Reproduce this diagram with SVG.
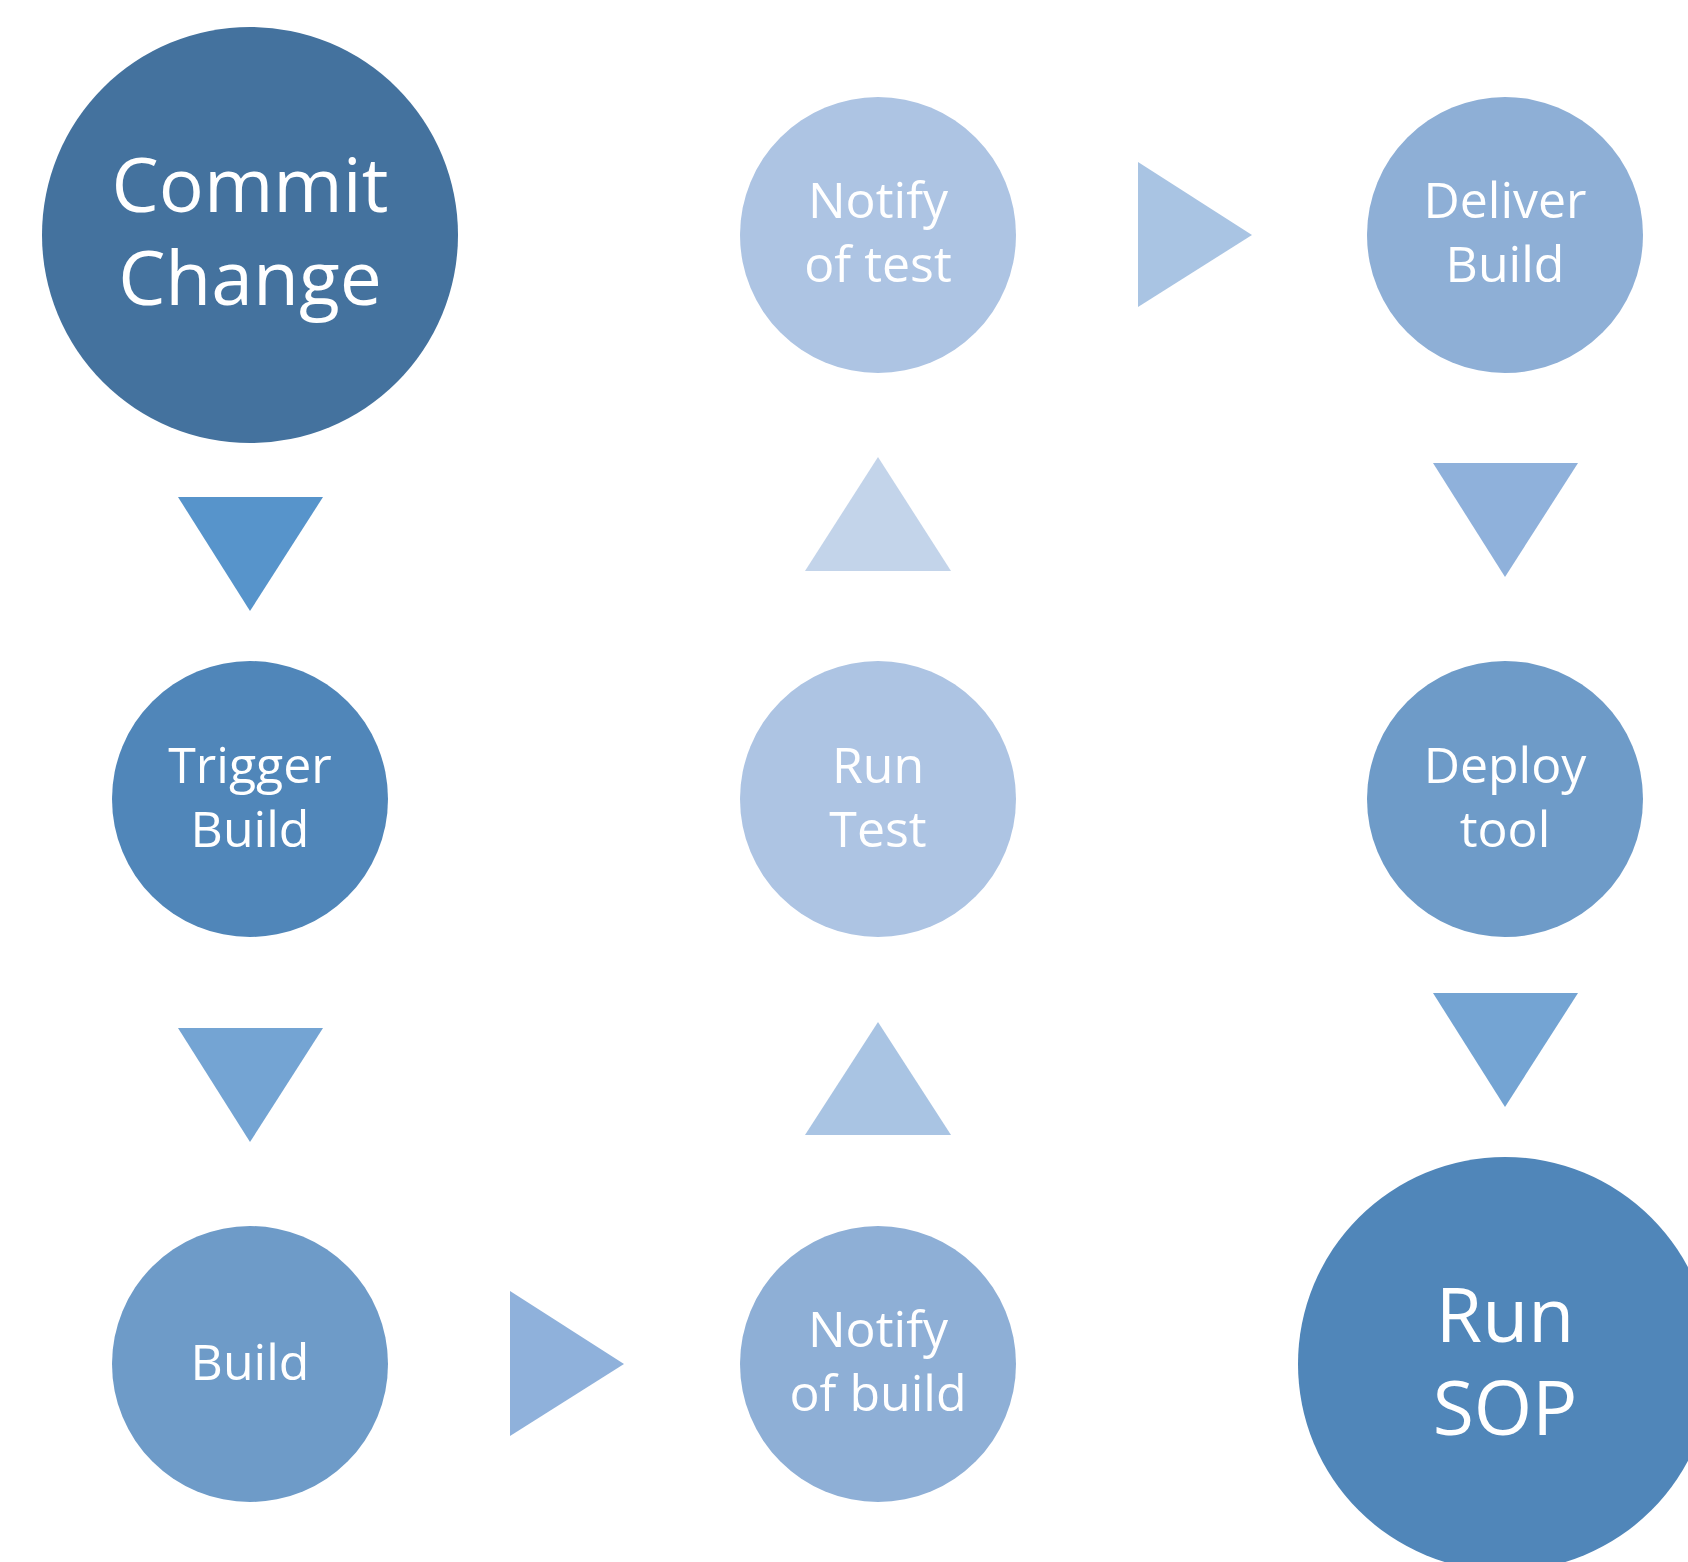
<svg xmlns="http://www.w3.org/2000/svg" width="1688" height="1562" viewBox="0 0 1688 1562">
  <style>
    .lbl { font-family: "Open Sans", "Noto Sans", "Liberation Sans", sans-serif; fill: #ffffff; text-anchor: middle; }
    .big { font-size: 75px; }
    .small { font-size: 50px; }
  </style>
  <rect width="1688" height="1562" fill="#ffffff"/>

  <!-- flow arrows between the stages -->
  <g id="connectors">
    <polygon points="178,497 323,497 250,611" fill="#5794CB"/>
    <polygon points="178,1028 323,1028 250,1142" fill="#74A4D3"/>
    <polygon points="510,1291 624,1364 510,1436" fill="#8FB1DB"/>
    <polygon points="805,1135 951,1135 878,1022" fill="#A9C4E3"/>
    <polygon points="805,571 951,571 878,457" fill="#C3D4EA"/>
    <polygon points="1138,162 1252,235 1138,307" fill="#A9C4E3"/>
    <polygon points="1433,463 1578,463 1505,577" fill="#8FB1DB"/>
    <polygon points="1433,993 1578,993 1505,1107" fill="#74A4D3"/>
  </g>

  <g id="commit-change">
    <circle cx="250" cy="235" r="208" fill="#44729E"/>
    <text class="lbl big" x="250" y="212">Commit</text>
    <text class="lbl big" x="250" y="305">Change</text>
  </g>

  <g id="trigger-build">
    <circle cx="250" cy="799" r="138" fill="#5086B9"/>
    <text class="lbl small" x="250" y="783">Trigger</text>
    <text class="lbl small" x="250" y="847">Build</text>
  </g>

  <g id="build">
    <circle cx="250" cy="1364" r="138" fill="#6E9BC8"/>
    <text class="lbl small" x="250" y="1380">Build</text>
  </g>

  <g id="notify-of-build">
    <circle cx="878" cy="1364" r="138" fill="#8EAFD6"/>
    <text class="lbl small" x="878" y="1347">Notify</text>
    <text class="lbl small" x="878" y="1411">of build</text>
  </g>

  <g id="run-test">
    <circle cx="878" cy="799" r="138" fill="#ADC4E3"/>
    <text class="lbl small" x="878" y="783">Run</text>
    <text class="lbl small" x="878" y="847">Test</text>
  </g>

  <g id="notify-of-test">
    <circle cx="878" cy="235" r="138" fill="#ADC4E3"/>
    <text class="lbl small" x="878" y="218">Notify</text>
    <text class="lbl small" x="878" y="282">of test</text>
  </g>

  <g id="deliver-build">
    <circle cx="1505" cy="235" r="138" fill="#8EAFD6"/>
    <text class="lbl small" x="1505" y="218">Deliver</text>
    <text class="lbl small" x="1505" y="282">Build</text>
  </g>

  <g id="deploy-tool">
    <circle cx="1505" cy="799" r="138" fill="#6E9BC8"/>
    <text class="lbl small" x="1505" y="783">Deploy</text>
    <text class="lbl small" x="1505" y="847">tool</text>
  </g>

  <g id="run-sop">
    <circle cx="1505" cy="1364" r="207" fill="#5086B9"/>
    <text class="lbl big" x="1505" y="1342">Run</text>
    <text class="lbl big" x="1505" y="1435">SOP</text>
  </g>
</svg>
